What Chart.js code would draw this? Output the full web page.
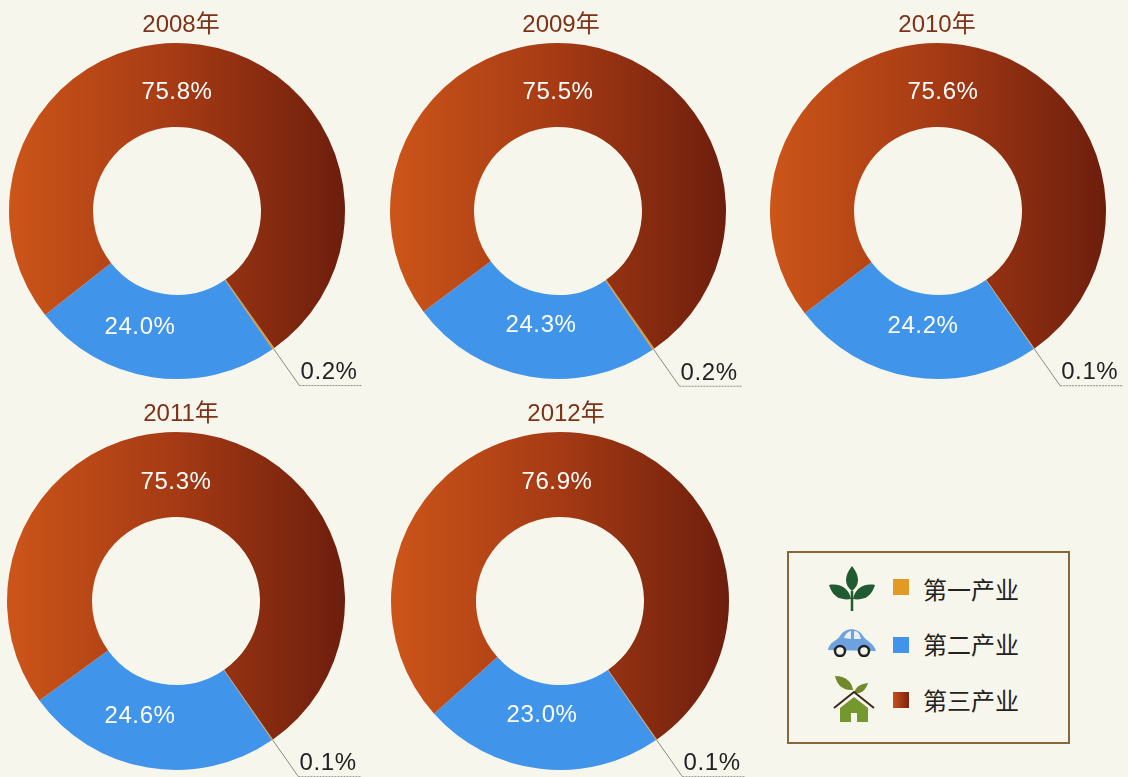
<!DOCTYPE html>
<html><head><meta charset="utf-8">
<script src="https://cdn.jsdelivr.net/npm/chart.js@4"></script>
<style>
html,body{margin:0;padding:0;width:1128px;height:777px;overflow:hidden;background:#f7f6ec}
canvas{position:absolute}
#legend{position:absolute;left:787px;top:551px;width:279px;height:189px;border:2px solid #87673a}
.sw{position:absolute;left:104px;width:16px;height:16px}
.lb{position:absolute;left:134px;font:24px "Noto Sans CJK SC";color:#222;line-height:30px;white-space:nowrap}
svg{position:absolute}
</style></head><body>
<div id="legend">
<svg style="left:38px;top:12px" width="50" height="50" viewBox="0 0 50 50"><path d="M25 1C17 11 17 20 25 26C33 20 33 11 25 1Z" fill="#1f5a30"/><path d="M2 20C14 18 22 24 24 34C12 36 5 30 2 20Z" fill="#1f5a30"/><path d="M48 20C36 18 28 24 26 34C38 36 45 30 48 20Z" fill="#1f5a30"/><path d="M25 26V46" stroke="#1f5a30" stroke-width="2.5"/></svg>
<svg style="left:38px;top:74px" width="50" height="30" viewBox="0 0 50 30"><path d="M1 23C2 15 10 14 13 9C18 0 31 0 36 9C39 14 47 16 49 24Z" fill="#6ba2df"/><path d="M17 11C19 5 23 4 24 4V12ZM27 4C31 4 33 7 34 12H27Z" fill="#e9f1f6"/><circle cx="13" cy="24" r="5" fill="#f5f5ee" stroke="#222" stroke-width="2.5"/><circle cx="37" cy="24" r="5" fill="#f5f5ee" stroke="#222" stroke-width="2.5"/></svg>
<svg style="left:44px;top:122px" width="42" height="50" viewBox="0 0 42 50"><path d="M2 1C14 1 19 8 20 15C10 16 4 10 2 1Z" fill="#71892b"/><path d="M35 8C32 17 27 19 21 18C23 11 28 9 35 8Z" fill="#71892b"/><path d="M1 33L21 17L41 33" fill="none" stroke="#3a2a1c" stroke-width="2"/><path d="M7 33L21 22L35 33V47H24V38H18V47H7Z" fill="#74972e"/></svg>
<div class="sw" style="top:26px;background:#e39a25"></div><div class="lb" style="top:21px">第一产业</div>
<div class="sw" style="top:84px;background:#4095ea"></div><div class="lb" style="top:76px">第二产业</div>
<div class="sw" style="top:139px;background:linear-gradient(90deg,#c8501a,#7a2410)"></div><div class="lb" style="top:132px">第三产业</div>
</div>
<script>
const years = ['2008年','2009年','2010年','2011年','2012年'];
const categories = ['第一产业','第二产业','第三产业'];
const primary = [0.2,0.2,0.1,0.1,0.1];
const secondary = [24.0,24.3,24.2,24.6,23.0];
const tertiary = [75.8,75.5,75.6,75.3,76.9];
const colors = {primary:'#e39a25', secondary:'#4095ea'};
// layout of each panel (not data)
const centerX = [177,558,938,176,560];
const centerY = [211,211,211,601,601];
const radius = [168,168,168,169,169];
const hole = [84,84,84,84,84];
const rotations = [144.6,145.0,144.9,145.0,145.0];
const blueOffset = [[-37,115],[-17,113],[-15,114],[-36,114],[-18,113]];
const topOffset = [0,0,5,0,-3];
const titleDx = [4,3,-1,5,6];
const size = 420;

const decor = {
  id:'decor',
  afterDraw(chart, args, o){
    const c = chart.ctx, i = o.index, cx = size/2, cy = size/2, r = radius[i];
    c.save();
    c.textBaseline='middle';
    c.fillStyle='#7d3217';
    c.textAlign='center';
    c.font='24px "Liberation Sans","Noto Sans CJK SC"';
    c.fillText(years[i], cx+titleDx[i], cy-r-18);
    c.fillStyle='#fff';
    c.font='24px "Liberation Sans"';
    c.letterSpacing='0.6px';
    c.fillText(tertiary[i].toFixed(1)+'%', cx+topOffset[i], cy-119);
    c.fillText(secondary[i].toFixed(1)+'%', cx+blueOffset[i][0], cy+blueOffset[i][1]+1);
    const a = chart.getDatasetMeta(0).data[0];
    const ang = (a.startAngle+a.endAngle)/2;
    const x0 = cx+Math.cos(ang)*r, y0 = cy+Math.sin(ang)*r;
    const x1 = x0+26, y1 = y0+37;
    c.strokeStyle='#8a8a84'; c.lineWidth=1;
    c.beginPath(); c.moveTo(x0,y0); c.lineTo(x1,y1); c.stroke();
    c.setLineDash([2,1]);
    c.beginPath(); c.moveTo(x1,y1); c.lineTo(x1+62,y1); c.stroke();
    c.setLineDash([]);
    c.fillStyle='#222'; c.textAlign='left';
    c.fillText(primary[i].toFixed(1)+'%', x1+1, y1-13);
    c.restore();
  }
};

years.forEach((y,i)=>{
  const cv=document.createElement('canvas');
  cv.width=size; cv.height=size;
  cv.style.left=(centerX[i]-size/2)+'px';
  cv.style.top=(centerY[i]-size/2)+'px';
  cv.style.width=size+'px'; cv.style.height=size+'px';
  document.body.appendChild(cv);
  new Chart(cv,{
    type:'doughnut',
    data:{labels:categories,datasets:[{
      data:[primary[i],secondary[i],tertiary[i]],
      borderWidth:0,
      backgroundColor(ctx){
        if(ctx.dataIndex===0) return colors.primary;
        if(ctx.dataIndex===1) return colors.secondary;
        const g=ctx.chart.ctx.createLinearGradient(size/2-radius[i],0,size/2+radius[i],0);
        g.addColorStop(0,'#cc5519');
        g.addColorStop(0.5,'#a53a14');
        g.addColorStop(1,'#6d1e0d');
        return g;
      }
    }]},
    options:{
      responsive:false,animation:false,
      radius:radius[i],cutout:(hole[i]/radius[i]*100)+'%',rotation:rotations[i],
      layout:{padding:0},
      plugins:{legend:{display:false},tooltip:{enabled:false},decor:{index:i}}
    },
    plugins:[decor]
  });
});
</script>
</body></html>
